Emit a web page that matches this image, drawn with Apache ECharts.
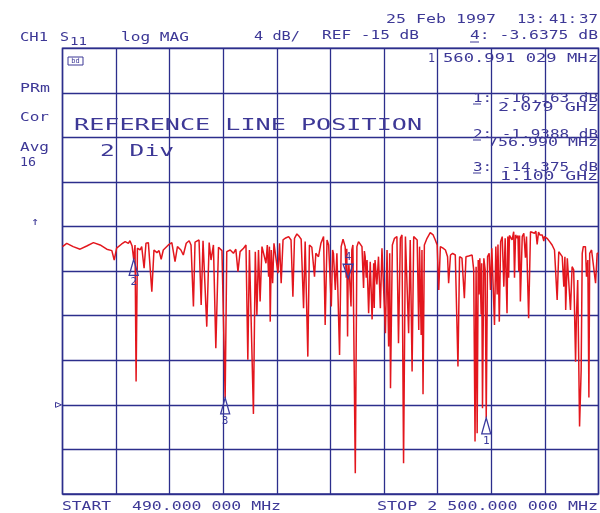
<!DOCTYPE html>
<html>
<head>
<meta charset="utf-8">
<script src="https://cdn.jsdelivr.net/npm/echarts@6/dist/echarts.min.js"></script>
<style>
  html, body { margin: 0; padding: 0; background: #fff; }
  #main { width: 600px; height: 513px; }
</style>
</head>
<body>
<div id="main"></div>
<script>
// S11 trace: frequency in MHz, level in dB
var freqMHz = [
  490, 506, 530, 556, 581, 606, 631, 656, 675, 684,
  693, 712, 725, 737, 743, 751, 757, 762, 766, 771,
  781, 787, 796, 803, 812, 825, 833, 844, 852, 860,
  868, 887, 900, 912, 921, 934, 943, 954, 965, 972,
  981, 987, 1002, 1010, 1017, 1031, 1040, 1047, 1056, 1065,
  1075, 1088, 1100, 1106, 1119, 1131, 1140, 1148, 1156, 1169,
  1178, 1185, 1191, 1198, 1206, 1213, 1219, 1225, 1231, 1238,
  1244, 1253, 1258, 1263, 1266, 1269, 1273, 1278, 1283, 1288,
  1298, 1304, 1310, 1317, 1325, 1338, 1347, 1354, 1360, 1369,
  1378, 1385, 1394, 1400, 1410, 1416, 1425, 1435, 1440, 1450,
  1459, 1469, 1475, 1482, 1488, 1498, 1503, 1506, 1513, 1519,
  1529, 1535, 1542, 1550, 1554, 1556, 1559, 1561, 1564, 1572,
  1575, 1579, 1588, 1594, 1600, 1613, 1619, 1622, 1625, 1629,
  1632, 1638, 1644, 1651, 1657, 1659, 1662, 1666, 1669, 1675,
  1682, 1688, 1694, 1701, 1707, 1713, 1717, 1720, 1727, 1735,
  1744, 1750, 1757, 1763, 1769, 1776, 1782, 1788, 1794, 1801,
  1807, 1813, 1820, 1826, 1829, 1835, 1838, 1842, 1847, 1857,
  1869, 1880, 1888, 1895, 1901, 1907, 1917, 1926, 1934, 1938,
  1945, 1953, 1963, 1973, 1979, 1988, 1997, 2003, 2013, 2026,
  2032, 2037, 2041, 2045, 2049, 2052, 2055, 2060, 2062, 2065,
  2070, 2075, 2079, 2084, 2090, 2095, 2100, 2103, 2110, 2115,
  2118, 2120, 2123, 2128, 2133, 2139, 2145, 2150, 2157, 2160,
  2163, 2166, 2170, 2176, 2182, 2185, 2189, 2195, 2198, 2201,
  2204, 2207, 2214, 2220, 2226, 2230, 2238, 2245, 2251, 2260,
  2265, 2270, 2275, 2280, 2289, 2295, 2297, 2307, 2317, 2326,
  2335, 2345, 2351, 2357, 2364, 2370, 2374, 2377, 2383, 2389,
  2395, 2401, 2407, 2414, 2417, 2422, 2429, 2435, 2439, 2443,
  2451, 2455, 2460, 2464, 2467, 2474, 2480, 2489, 2495, 2500
];
var levelDb = [
  -0.80, -0.50, -0.80, -1.03, -0.74, -0.44, -0.65, -1.03, -1.16, -2.00,
  -0.94, -0.56, -0.35, -0.50, -0.27, -0.74, -1.94, -0.65, -12.90, -0.94,
  -1.10, -0.80, -2.74, -0.50, -0.44, -4.84, -1.10, -1.34, -1.16, -1.93,
  -1.10, -0.65, -0.44, -2.15, -0.80, -1.10, -1.55, -0.50, -0.27, -0.65,
  -6.18, -0.40, -0.20, -6.03, -0.27, -7.98, -0.44, -2.00, -0.65, -9.91,
  -0.86, -1.16, -14.38, -1.25, -1.10, -1.40, -1.03, -3.04, -1.25, -0.94,
  -0.65, -10.96, -1.10, -1.25, -15.81, -1.25, -6.93, -1.10, -5.73, -0.80,
  -0.65, -2.29, -0.65, -3.49, -0.80, -7.53, -1.10, -4.08, -0.50, -0.35,
  -3.19, -0.50, -4.08, -0.20, -0.05, 0.10, -0.20, -5.29, -0.05, 0.34,
  0.10, -0.14, -6.33, -0.35, -10.67, -0.65, -0.86, -3.49, -1.40, -1.70,
  -0.50, 0.10, -7.83, -0.20, -0.65, -6.18, -1.10, -1.40, -4.69, -1.40,
  -10.52, -0.80, -0.14, -0.80, -3.60, -1.00, -8.87, -3.64, -2.40, -6.18,
  -1.10, -0.65, -21.13, -0.80, -0.35, -0.80, -4.50, -1.20, -1.70, -3.60,
  -2.00, -6.78, -2.15, -7.33, -2.29, -6.30, -2.00, -1.84, -4.20, -1.70,
  -6.33, -0.94, -0.80, -8.57, -1.10, -9.77, -1.40, -13.50, -0.65, -0.05,
  0.10, -9.47, -0.05, 0.25, -20.23, 0.10, 0.25, -8.57, -0.20, -12.01,
  0.10, 0.25, -0.20, -8.27, -0.80, -8.72, -1.10, -14.05, -0.65, -0.05,
  0.45, 0.25, -0.20, -0.65, -4.69, -0.80, -0.94, -1.10, -1.70, -4.08,
  -1.55, -1.40, -1.55, -11.56, -1.70, -1.84, -5.43, -1.70, -1.64, -1.55,
  -2.89, -18.29, -2.60, -17.54, -2.00, -5.10, -1.84, -6.90, -2.30, -15.30,
  -1.84, -2.89, -16.16, -1.70, -1.40, -4.69, -0.94, -0.80, -7.83, -0.80,
  -0.70, -5.10, -0.60, -7.53, -0.35, 0.10, -4.39, -0.05, -6.78, 0.10,
  -3.60, 0.20, 0.25, -0.20, 0.54, -3.60, 0.25, -0.05, 0.20, -3.00,
  0.20, -5.73, 0.10, 0.40, -1.80, 0.10, -7.22, 0.54, 0.70, 0.40,
  0.60, -0.60, 0.50, 0.25, 0.25, -0.30, 0.10, -0.05, -0.35, -0.65,
  -1.10, -5.58, -1.25, -1.25, -1.70, -4.39, -1.70, -6.48, -1.84, -1.70,
  -6.48, -2.60, -2.89, -11.12, -7.38, -3.79, -16.95, -11.86, -1.40, -0.80,
  -0.80, -3.49, -2.00, -14.35, -1.40, -1.10, -1.25, -4.08, -1.40, -1.40
];

// markers
var markerNo = ['1', '2', '3', '4'];
var markerFreq = [2079, 756.99, 1100, 1560.991];
var markerDb = [-16.163, -1.9388, -14.375, -3.6375];

// sweep and scale settings
var startMHz = 490, stopMHz = 2500;
var refDb = -15, dbPerDiv = 4, refPos = 2, divs = 10;
var yMin = refDb - refPos * dbPerDiv;
var yMax = yMin + divs * dbPerDiv;

var INK = '#3d3896';
var GRIDC = '#2c2e8c';
var MARK = '#3b3a9e';
var TRACE = '#e3161d';
var MONO = '"DejaVu Sans Mono", monospace';

// plotter text: stretch each string to the width it has on the print
function txt(s, x0, x1, y, size) {
  var adv = size * 0.602;
  return {
    type: 'text', x: x0, y: y, scaleX: (x1 - x0) / (s.length * adv), z: 100,
    style: { text: s, fill: INK, fontSize: size, fontFamily: MONO, align: 'left', verticalAlign: 'middle' }
  };
}
function uline(x0, x1, y) {
  return { type: 'line', z: 100, shape: { x1: x0, y1: y, x2: x1, y2: y }, style: { stroke: INK, lineWidth: 1 } };
}

var chart = echarts.init(document.getElementById('main'));

var tgrid = { type: 'value', min: 0, max: divs, interval: 1,
  axisLine: { show: false }, axisTick: { show: false }, axisLabel: { show: false },
  splitLine: { show: true, lineStyle: { color: GRIDC, width: 1.3 } } };

chart.setOption({
  backgroundColor: '#ffffff',
  animation: false,
  grid: { left: 62.5, right: 1.5, top: 48.3, bottom: 19, show: true, borderColor: GRIDC, borderWidth: 1.5 },
  xAxis: [
    { type: 'value', min: startMHz, max: stopMHz, show: false },
    tgrid
  ],
  yAxis: [
    { type: 'value', min: yMin, max: yMax, show: false },
    tgrid
  ],
  graphic: [
    txt('25 Feb 1997', 386, 496, 20, 13),
    txt('13:', 517, 545, 20, 13),
    txt('41:', 549, 577, 20, 13),
    txt('37', 579, 598, 20, 13),
    txt('CH1', 20, 48, 38, 13),
    txt('S', 60, 69, 38, 13),
    txt('11', 70, 87, 42, 10),
    txt('log MAG', 121, 189, 38, 13),
    txt('4 dB/', 254, 300, 37, 13),
    txt('REF -15 dB', 322, 419, 36, 13),
    txt('4: -3.6375 dB', 470, 598, 36, 13),
    uline(470, 479, 42),
    txt('1', 428, 435, 59, 13),
    txt('560.991 029 MHz', 443, 598, 59, 13),
    txt('PRm', 20, 50, 89, 13),
    txt('Cor', 20, 49, 118, 13),
    txt('Avg', 20, 49, 148, 13),
    txt('16', 20, 36, 163, 13),
    txt('\u2191', 31, 39, 222, 11),
    txt('REFERENCE LINE POSITION', 74, 422, 126, 15),
    txt('2 Div', 100, 174, 152, 15),
    txt('1: -16.163 dB', 473, 598, 99, 13),
    uline(473, 481, 104),
    txt('2.079 GHz', 498, 598, 108, 13),
    txt('2: -1.9388 dB', 473, 598, 135, 13),
    uline(473, 481, 140),
    txt('756.990 MHz', 488, 598, 143, 13),
    txt('3: -14.375 dB', 473, 598, 168, 13),
    uline(473, 481, 173),
    txt('1.100 GHz', 500, 598, 177, 13),
    txt('START', 62, 111, 507, 13),
    txt('490.000 000 MHz', 132, 281, 507, 13),
    txt('STOP 2 500.000 000 MHz', 377, 598, 507, 13),
    { type: 'rect', z: 100, shape: { x: 68, y: 57, width: 15, height: 8 }, style: { fill: 'none', stroke: INK, lineWidth: 1 } },
    { type: 'text', z: 100, x: 75.5, y: 61, style: { text: 'bd', fill: INK, fontSize: 7, fontFamily: MONO, align: 'center', verticalAlign: 'middle' } }
  ],
  series: [
    {
      type: 'line',
      xAxisIndex: 0, yAxisIndex: 0,
      data: freqMHz.map(function (f, i) { return [f, levelDb[i]]; }),
      symbol: 'none',
      lineStyle: { color: TRACE, width: 1.5 },
      z: 3
    },
    {
      type: 'custom',
      xAxisIndex: 0, yAxisIndex: 0,
      data: markerFreq.map(function (f, i) { return [f, markerDb[i]]; }),
      z: 5,
      renderItem: function (params, api) {
        var p = api.coord([api.value(0), api.value(1)]);
        var n = markerNo[params.dataIndex];
        var down = n === '4';
        var tri = down
          ? [[p[0] - 5, p[1] - 14], [p[0] + 5, p[1] - 14], [p[0], p[1]]]
          : [[p[0], p[1]], [p[0] + 4.5, p[1] + 16], [p[0] - 4.5, p[1] + 16]];
        return {
          type: 'group',
          children: [
            { type: 'polygon', shape: { points: tri }, style: { fill: 'rgba(255,255,255,0)', stroke: MARK, lineWidth: 1.3 } },
            { type: 'text', x: p[0], y: down ? p[1] - 21 : p[1] + 23,
              style: { text: n, fill: MARK, fontSize: 11, fontFamily: MONO, align: 'center', verticalAlign: 'middle' } }
          ]
        };
      }
    },
    {
      // reference position pointer at the left edge
      type: 'custom',
      xAxisIndex: 0, yAxisIndex: 0,
      data: [[startMHz, refDb]],
      z: 5,
      renderItem: function (params, api) {
        var p = api.coord([api.value(0), api.value(1)]);
        return { type: 'polygon', shape: { points: [[p[0] - 7, p[1] - 2.5], [p[0] - 7, p[1] + 2.5], [p[0] - 1, p[1]]] },
          style: { fill: 'none', stroke: INK, lineWidth: 1 } };
      }
    }
  ]
});
</script>
</body>
</html>
